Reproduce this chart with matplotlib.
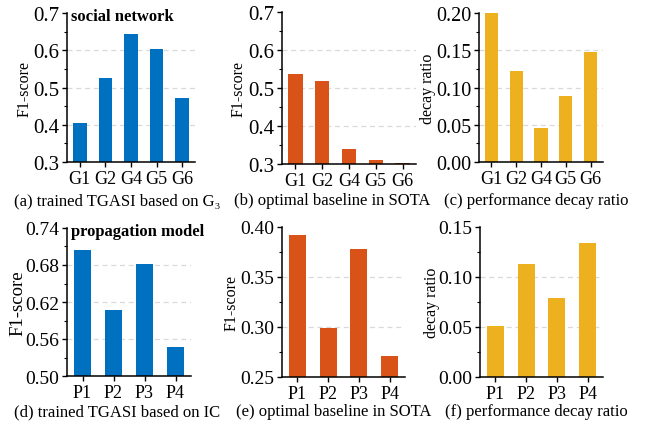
import matplotlib
matplotlib.use("Agg")
import matplotlib.pyplot as plt
import numpy as np

plt.rcParams['font.family'] = ['Liberation Serif', 'DejaVu Serif']

# data
g_labels = ['G1', 'G2', 'G4', 'G5', 'G6']
p_labels = ['P1', 'P2', 'P3', 'P4']

tgasi_g = [0.404, 0.526, 0.644, 0.604, 0.472]
sota_g = [0.538, 0.518, 0.340, 0.311, 0.302]
decay_g = [0.200, 0.122, 0.046, 0.089, 0.147]

tgasi_p = [0.704, 0.607, 0.681, 0.547]
sota_p = [0.392, 0.299, 0.378, 0.271]
decay_p = [0.051, 0.113, 0.079, 0.134]

blue = '#0070C0'
orange = '#D95319'
yellow = '#EDB120'

W, H = 652, 431
fig = plt.figure(figsize=(W / 100, H / 100), dpi=100)


def add_ax(l, r, t, b):
    return fig.add_axes([l / W, 1 - b / H, (r - l) / W, (b - t) / H])


def panel(box, labels, vals, color, yticks, fmt, ylabel, caption, cap_xy,
          ylab_x, width, tick_fs, ylab_fs, title=None):
    ax = add_ax(*box)
    x = np.arange(len(labels))
    ax.bar(x, vals, width=width, color=color, zorder=2)
    ax.set_xlim(-0.5, len(labels) - 0.5)
    ax.set_ylim(yticks[0], yticks[-1])
    ax.set_yticks(yticks)
    ax.set_yticklabels([fmt.format(v) for v in yticks], fontsize=tick_fs)
    step = yticks[1] - yticks[0]
    ax.set_yticks(np.arange(yticks[0] + step / 2, yticks[-1], step), minor=True)
    ax.set_xticks(x)
    ax.set_xticklabels(labels, fontsize=13)
    # dashed guides only at the inner major ticks
    for v in yticks[1:-1]:
        ax.axhline(v, color='#d9d9d9', lw=0.9, ls=(0, (4, 3)), zorder=1)
    for s in ['top', 'right']:
        ax.spines[s].set_visible(False)
    for s in ['left', 'bottom']:
        ax.spines[s].set_linewidth(1.1)
    ax.tick_params(axis='y', which='major', length=3.6, width=1, pad=2)
    ax.tick_params(axis='y', which='minor', length=2.2, width=0.8)
    ax.tick_params(axis='x', which='major', length=3.5, width=1, pad=2)
    ax.set_ylabel(ylabel, fontsize=ylab_fs, va='center')
    l, r, t, b = box
    ax.yaxis.set_label_coords((ylab_x - l) / (r - l), 0.5)
    fig.text(cap_xy[0] / W, 1 - cap_xy[1] / H, caption, fontsize=12,
             ha='center', va='center')
    if title:
        ax.text(0.03, 0.98, title, transform=ax.transAxes, fontsize=12,
                fontweight='bold', ha='left', va='center')
    return ax


panel((67, 195, 14, 163), g_labels, tgasi_g, blue, [0.3, 0.4, 0.5, 0.6, 0.7],
      '{:.1f}', 'F1-score', '(a) trained TGASI based on G\u2083', (117, 201),
      25, 0.53, 15, 11.5, title='social network')
panel((282, 416, 13, 165), g_labels, sota_g, orange, [0.3, 0.4, 0.5, 0.6, 0.7],
      '{:.1f}', 'F1-score', '(b) optimal baseline in SOTA', (332, 201),
      239, 0.53, 15, 11.5)
panel((479, 603, 14, 163), g_labels, decay_g, yellow,
      [0.0, 0.05, 0.10, 0.15, 0.20], '{:.2f}', 'decay ratio',
      '(c) performance decay ratio', (536, 201), 428, 0.53, 14.5, 11.5)

panel((67, 191, 229, 377), p_labels, tgasi_p, blue,
      [0.50, 0.56, 0.62, 0.68, 0.74], '{:.2f}', 'F1-score',
      '(d) trained TGASI based on IC', (117, 412), 18, 0.55, 14, 13.5,
      title='propagation model')
panel((282, 405, 228, 378), p_labels, sota_p, orange,
      [0.25, 0.30, 0.35, 0.40], '{:.2f}', 'F1-score',
      '(e) optimal baseline in SOTA', (334, 412), 232, 0.55, 14, 11.5)
panel((480, 603, 228, 378), p_labels, decay_p, yellow,
      [0.00, 0.05, 0.10, 0.15], '{:.2f}', 'decay ratio',
      '(f) performance decay ratio', (536, 412), 432, 0.55, 14, 11.5)

fig.savefig('out.png', dpi=100)
